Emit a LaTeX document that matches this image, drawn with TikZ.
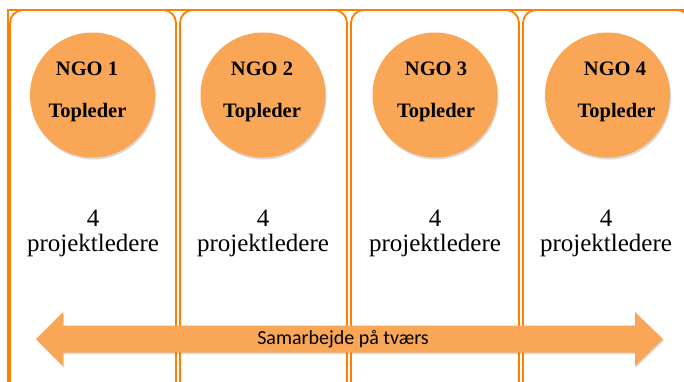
\documentclass[tikz,border=0pt]{standalone}
\usepackage{fontspec}
\setmainfont{Liberation Serif}
\newfontfamily\labelfont{Carlito}
\usetikzlibrary{shadows}
\definecolor{frameor}{RGB}{255,127,0}
\definecolor{fillor}{RGB}{249,167,86}
\tikzset{
  colbox/.style={draw=frameor, line width=1.8pt, rounded corners=13pt},
  ngocircle/.style={circle, fill=fillor, minimum size=125pt, inner sep=0pt,
     drop shadow={shadow xshift=1pt, shadow yshift=-2pt, opacity=0.25, fill=black!60}},
  ngotext/.style={font=\fontsize{20.5}{23}\selectfont\bfseries, text=black, inner sep=0pt},
  pltext/.style={font=\fontsize{25}{28}\selectfont, text=black, inner sep=0pt},
  arrowtext/.style={font=\labelfont\fontsize{20}{23}\selectfont, text=black, inner sep=0pt},
}
\begin{document}
\begin{tikzpicture}[x=1pt,y=-1pt]
\useasboundingbox (0,0) rectangle (684,381);
\clip (0,0) rectangle (684,381);
% outer frame
\draw[draw=frameor, line width=1.8pt] (8,420) -- (8,10) -- (720,10);
% column boxes
\foreach \l/\r in {10/176, 180/347, 351/519, 523/690}{
  \draw[colbox] (\l,10) rectangle (\r,400);
}
% circles
\node[ngocircle] (c1) at (92.5,95) {};
\node[ngocircle] (c2) at (263,95) {};
\node[ngocircle] (c3) at (435,95) {};
\node[ngocircle] (c4) at (607.5,95) {};
% circle texts
\node[ngotext] (n1) at (87,69) {NGO 1};
\node[ngotext] (t1) at (87.5,113) {Topleder};
\node[ngotext] (n2) at (262,69) {NGO 2};
\node[ngotext] (t2) at (262,113) {Topleder};
\node[ngotext] (n3) at (436,69) {NGO 3};
\node[ngotext] (t3) at (436,113) {Topleder};
\node[ngotext] (n4) at (615,69) {NGO 4};
\node[ngotext] (t4) at (616.5,113) {Topleder};
% projektledere texts
\foreach \x/\nm in {93/1, 263/2, 435/3, 606/4}{
  \node[pltext] (f\nm) at (\x,218) {4};
  \node[pltext] (p\nm) at (\x,245) {projektledere};
}
% double arrow
\fill[fillor, drop shadow={shadow xshift=1pt, shadow yshift=-1.5pt, opacity=0.25, fill=black!60}]
  (36,339) -- (63,312) -- (63,325.5) -- (635,325.5) -- (635,312) -- (663,339)
  -- (635,366) -- (635,352.5) -- (63,352.5) -- (63,366) -- cycle;
\node[arrowtext] (lab) at (343,339) {Samarbejde på tværs};
\end{tikzpicture}
\end{document}
